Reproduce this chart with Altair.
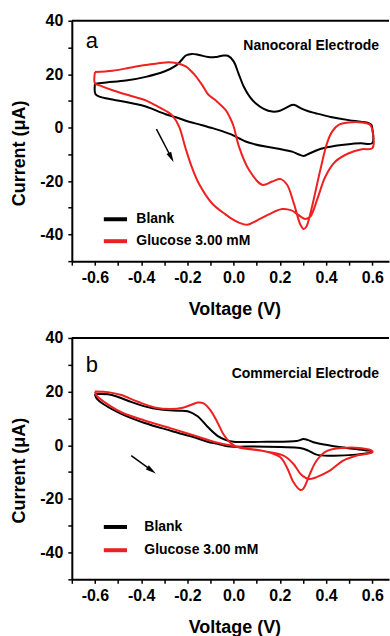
import altair as alt
import pandas as pd

RED = "#ee2020"
SERIES = ["Blank", "Glucose 3.00 mM"]
PANEL_LABELS = ["a", "b"]
ELECTRODES = ["Nanocoral Electrode", "Commercial Electrode"]
X_TITLE = "Voltage (V)"
Y_TITLE = "Current (\u03bcA)"

# ---- Panel a : Nanocoral electrode ----
a_blank_v = [-0.6, -0.55, -0.466, -0.38, -0.30, -0.25, -0.225, -0.207, -0.18, -0.15, -0.11, -0.08,
             -0.05, -0.025, 0.0, 0.02, 0.044, 0.07, 0.095, 0.13, 0.167, 0.2, 0.224, 0.257, 0.275,
             0.289, 0.32, 0.354, 0.42, 0.498, 0.55, 0.584, 0.596, 0.6, 0.6,
             0.55, 0.498, 0.44, 0.382, 0.33, 0.303, 0.28, 0.253, 0.2, 0.138, 0.09, 0.052, 0.009,
             -0.006, -0.05, -0.092, -0.14, -0.193, -0.24, -0.294, -0.38, -0.45, -0.524, -0.58,
             -0.598, -0.6]
a_blank_i = [16.4, 16.9, 17.6, 19.0, 21.0, 23.2, 25.3, 27.0, 27.6, 27.2, 26.4, 26.4,
             26.9, 26.9, 24.8, 20.5, 15.3, 11.5, 9.1, 7.0, 6.0, 6.3, 7.3, 8.6, 8.0,
             7.3, 6.2, 5.4, 4.0, 2.8, 2.2, 1.7, 1.0, -0.5, -5.8,
             -5.9, -6.2, -6.8, -7.8, -9.6, -10.6, -10.0, -9.0, -8.0, -7.1, -6.2, -5.2, -3.4,
             -2.7, -1.3, -0.2, 1.0, 2.2, 3.6, 5.0, 7.9, 9.3, 10.5, 11.6,
             12.6, 16.4]

a_glu_v = [-0.6, -0.524, -0.45, -0.38, -0.294, -0.25, -0.207, -0.18, -0.164, -0.135, -0.11, -0.078,
           -0.035, -0.015, 0.0, 0.023, 0.066, 0.123, 0.167, 0.203, 0.231, 0.26, 0.289, 0.303,
           0.315, 0.325, 0.346, 0.375, 0.404, 0.426, 0.454, 0.498, 0.555, 0.591, 0.6, 0.6,
           0.555, 0.498, 0.44, 0.397, 0.361, 0.332, 0.311, 0.295, 0.274, 0.25, 0.21, 0.152,
           0.1, 0.059, 0.023, -0.006, -0.035, -0.092, -0.15, -0.18, -0.207, -0.236, -0.265,
           -0.294, -0.337, -0.38, -0.45, -0.524, -0.58, -0.6, -0.6]
a_glu_i = [20.8, 21.3, 22.4, 23.4, 24.4, 24.2, 22.9, 20.8, 19.3, 15.8, 12.4, 10.2,
           6.6, 3.6, 0.4, -7.1, -15.8, -21.4, -20.2, -19.3, -21.4, -28.3, -36.4, -38.0,
           -37.0, -34.5, -27.0, -15.8, -5.8, -1.5, 1.0, 1.9, 1.9, 1.0, -0.9, -7.7,
           -8.1, -9.6, -12.7, -18.3, -27.0, -33.3, -34.2, -33.6, -32.3, -31.0, -30.5, -32.5,
           -34.8, -36.4, -35.6, -34.3, -32.5, -28.5, -21.0, -15.0, -8.0, 0.4, 4.5,
           6.3, 8.3, 10.2, 12.0, 14.0, 15.8, 16.6, 20.8]

# ---- Panel b : Commercial electrode ----
b_blank_v = [-0.6, -0.543, -0.5, -0.457, -0.385, -0.314, -0.242, -0.199, -0.156, -0.113, -0.07,
             -0.03, 0.0, 0.144, 0.273, 0.302, 0.32, 0.345, 0.416, 0.488, 0.57, 0.598, 0.598,
             0.53, 0.416, 0.359, 0.323, 0.287, 0.202, 0.059, 0.0, -0.027, -0.07, -0.113,
             -0.171, -0.199, -0.271, -0.385, -0.486, -0.557, -0.593, -0.6]
b_blank_i = [19.1, 19.0, 18.0, 16.6, 14.5, 13.3, 12.9, 12.7, 10.8, 6.9, 3.5,
             1.8, 1.3, 1.3, 1.6, 2.3, 2.0, 1.1, -0.1, -1.0, -1.9, -2.3, -2.6,
             -3.5, -3.9, -3.5, -2.0, -1.0, -0.7, -0.5, -0.6, -0.4, 0.5, 1.3,
             3.0, 3.6, 5.4, 8.3, 11.7, 15.0, 17.5, 19.1]

b_glu_v = [-0.6, -0.543, -0.486, -0.414, -0.342, -0.271, -0.22, -0.185, -0.156, -0.13, -0.1,
           -0.07, -0.042, -0.013, 0.02, 0.06, 0.144, 0.202, 0.23, 0.259, 0.287, 0.298, 0.309,
           0.33, 0.359, 0.402, 0.474, 0.545, 0.585, 0.6, 0.6, 0.53, 0.474, 0.416, 0.359,
           0.323, 0.3, 0.287, 0.259, 0.216, 0.144, 0.059, 0.0, -0.07, -0.171, -0.271, -0.385,
           -0.486, -0.557, -0.593, -0.6]
b_glu_i = [20.0, 19.8, 18.7, 16.2, 14.1, 13.5, 14.0, 15.0, 15.9, 15.6, 13.0,
           8.5, 3.8, 0.8, -0.8, -1.4, -2.4, -4.5, -8.2, -13.8, -16.6, -16.5, -15.1,
           -10.7, -5.7, -2.2, -1.0, -1.0, -1.6, -2.2, -2.7, -3.9, -5.7, -9.5, -11.9,
           -12.6, -11.5, -10.5, -7.0, -3.9, -2.4, -1.2, -0.3, 0.9, 3.6, 6.3, 9.2,
           12.3, 16.0, 18.5, 20.0]

# scan-direction arrows (start, end) in data units
arrow_a_v = [-0.334, -0.27]
arrow_a_i = [-0.6, -11.2]
arrow_b_v = [-0.443, -0.355]
arrow_b_i = [-3.9, -9.4]

x_ticks = [-0.7, -0.6, -0.5, -0.4, -0.3, -0.2, -0.1, 0.0, 0.1, 0.2, 0.3, 0.4, 0.5, 0.6]
y_ticks = [-50, -40, -30, -20, -10, 0, 10, 20, 30, 40]
X_DOMAIN = [-0.7, 0.672]
Y_DOMAIN = [-50, 40]

FONT = "Liberation Sans"
W = 318


def curves_df(bv, bi, gv, gi):
    rows = []
    for k, (v, i) in enumerate(zip(bv, bi)):
        rows.append({"V": v, "I": i, "series": SERIES[0], "idx": k})
    for k, (v, i) in enumerate(zip(gv, gi)):
        rows.append({"V": v, "I": i, "series": SERIES[1], "idx": k})
    return pd.DataFrame(rows)


xscale = alt.Scale(domain=X_DOMAIN, nice=False, zero=False)
yscale = alt.Scale(domain=Y_DOMAIN, nice=False, zero=False)

x_label_expr = ("abs(round(datum.value*10)) % 2 == 0 ? "
                "(datum.value < -0.001 ? '-' : '') + format(abs(datum.value), '.1f') : ''")
y_label_expr = ("datum.value % 20 == 0 ? "
                "(datum.value < 0 ? '-' : '') + format(abs(datum.value), 'd') : ''")

X_AXIS = alt.Axis(values=x_ticks, labelExpr=x_label_expr, title=X_TITLE,
                  titleX=163, titleY=53, titleBaseline="alphabetic")
Y_AXIS = alt.Axis(values=y_ticks, labelExpr=y_label_expr, title=Y_TITLE,
                  titleX=-52, titleY=132.5, titleBaseline="middle", labelPadding=5)


def xe():
    return alt.X("V:Q", scale=xscale, axis=X_AXIS)


def ye():
    return alt.Y("I:Q", scale=yscale, axis=Y_AXIS)


def panel(df, av, ai, angle, label, label_y, electrode, electrode_y, H,
          leg_y, leg_offset, leg_pad):
    lines = alt.Chart(df).mark_line(strokeWidth=2, interpolate="catmull-rom").encode(
        x=xe(), y=ye(),
        color=alt.Color("series:N",
                        scale=alt.Scale(domain=SERIES, range=["black", RED]),
                        legend=alt.Legend(orient="none", legendX=29.7, legendY=leg_y, title=None,
                                          symbolType="stroke", symbolStrokeWidth=4,
                                          symbolSize=540, labelFont=FONT,
                                          labelFontWeight="bold", labelFontSize=14,
                                          labelColor="black", labelOffset=leg_offset,
                                          rowPadding=leg_pad, padding=0)),
        order="idx:Q",
    )
    adf = pd.DataFrame({"V": av, "I": ai})
    arrow_line = alt.Chart(adf).mark_line(color="black", strokeWidth=1.5).encode(
        x=xe(), y=ye())
    head = alt.Chart(adf.iloc[[1]]).mark_point(
        shape="M0,-1L-0.5,1L0.5,1Z", filled=True, color="black", opacity=1,
        size=110, angle=angle, strokeWidth=0).encode(x=xe(), y=ye())
    one = pd.DataFrame({"t": [label]})
    frame = alt.Chart(one).mark_rule(color="black", strokeWidth=2).encode(
        x=alt.value(0), x2=alt.value(W), y=alt.value(0))
    lab = alt.Chart(one).mark_text(
        font=FONT, fontSize=22, align="left", baseline="alphabetic", color="black").encode(
        text="t:N", x=alt.value(14), y=alt.value(label_y))
    ele = alt.Chart(pd.DataFrame({"t": [electrode]})).mark_text(
        font=FONT, fontSize=14, fontWeight="bold", align="right", baseline="alphabetic",
        color="black").encode(
        text="t:N", x=alt.value(308), y=alt.value(electrode_y))
    return alt.layer(lines, arrow_line, head, frame, lab, ele).properties(width=W, height=H)


pa = panel(curves_df(a_blank_v, a_blank_i, a_glu_v, a_glu_i), arrow_a_v, arrow_a_i, 152.5,
           PANEL_LABELS[0], 27, ELECTRODES[0], 29, 241, 185, 7, 0)
pb = panel(curves_df(b_blank_v, b_blank_i, b_glu_v, b_glu_i), arrow_b_v, arrow_b_i, 125.4,
           PANEL_LABELS[1], 34, ELECTRODES[1], 40, 242, 175.5, 15, 1.3)

chart = alt.vconcat(pa, pb, spacing=77, bounds="flush").resolve_scale(
    color="independent").resolve_legend(color="independent").properties(
    padding={"left": 11, "top": 12, "right": 0, "bottom": 0},
    background="white",
).configure_view(stroke=None).configure_axis(
    labelFont=FONT, labelFontWeight="bold", labelFontSize=16, labelColor="black",
    labelOverlap=False, labelFlush=False, labelPadding=4,
    tickColor="black", tickWidth=1.5, tickSize=4,
    domainColor="black", domainWidth=2, grid=False,
    titleFont=FONT, titleFontWeight="bold", titleFontSize=18, titleColor="black",
)

chart.save("out.html", embed_options={"renderer": "svg", "actions": False})
